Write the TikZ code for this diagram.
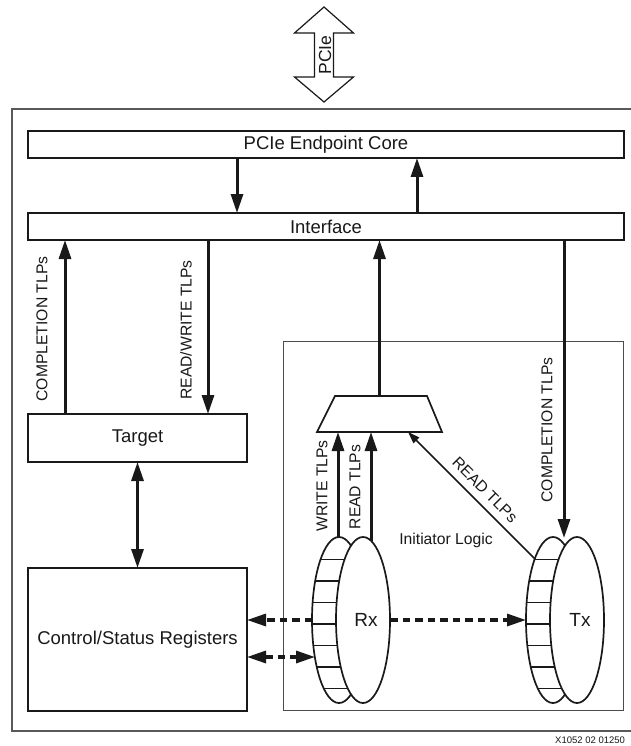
\documentclass[tikz,border=0pt]{standalone}
\usepackage{fontspec}
\setmainfont{Liberation Sans}
\usetikzlibrary{arrows.meta,shapes.geometric,calc}
\newcommand\drawcoin[3]{%
  \node[cyl] (#1back) at (#2,620) {};
  \node[cyl, font=\fontsize{19}{22}\selectfont] (#1) at (#2+24,620) {\raisebox{-3pt}{\hspace{6pt}#3}};
  \foreach \k in {-3,...,3}{%
    \pgfmathsetmacro\dy{4+21.5*\k}%
    \pgfmathsetmacro\w{27*sqrt(1-(\dy/83)^2)}%
    \draw[line width=1.4pt, black!90] (#2-\w,620+\dy) -- (#2+24-\w,620+\dy);
  }%
}
\begin{document}
\begin{tikzpicture}[x=1pt,y=-1pt,
  box/.style={draw=black!90, line width=1.9pt, fill=white, inner sep=0pt, outer sep=0pt,
    text=black!90, font=\fontsize{18.5}{21}\selectfont},
  lab/.style={font=\fontsize{15.7}{18}\selectfont, inner sep=0pt, text=black!90},
  arr/.style={line width=3pt, draw=black!90, -{Triangle[length=19pt,width=12pt]}},
  darr/.style={line width=3pt, draw=black!90, {Triangle[length=19pt,width=12pt]}-{Triangle[length=19pt,width=12pt]}},
  thinarr/.style={line width=1.5pt, draw=black!90, -{Triangle[length=12pt,width=8pt]}},
  dsh/.style={line width=3.2pt, draw=black!90, dash pattern=on 7.5pt off 5pt},
  dshr/.style={dsh, -{Triangle[length=19pt,width=12pt]}},
  dshb/.style={dsh, {Triangle[length=19pt,width=12pt]}-{Triangle[length=19pt,width=12pt]}},
  cyl/.style={ellipse, draw=black!90, line width=1.7pt, fill=white, minimum width=54pt,
    minimum height=166pt, inner sep=0pt, outer sep=0pt, text=black!90},
  frame/.style={draw=black!65, line width=1.4pt},
  innerframe/.style={draw=black!70, line width=1pt}]
\useasboundingbox (0,0) rectangle (630,746);
\fill[white] (0,0) rectangle (630,746);

% frames
\draw[frame] (12,109) rectangle (640,731);
\draw[innerframe] (283,341) rectangle (623,710);

% PCIe double arrow
\draw[line width=1.2pt, draw=black!90, fill=white]
  (324,7) -- (353.5,33) -- (333.5,33) -- (333.5,77) -- (353.5,77) -- (324,102)
  -- (294.5,77) -- (314.5,77) -- (314.5,33) -- (294.5,33) -- cycle;
\node[lab, rotate=90, font=\fontsize{17.5}{20}\selectfont] (pcie) at (325,55) {PCIe};

% boxes
\node[box, minimum width=596pt, minimum height=27pt] (core) at (326,144.5) {PCIe Endpoint Core};
\node[box, minimum width=596pt, minimum height=27pt] (iface) at (326,226.5) {Interface};
\node[box, minimum width=219pt, minimum height=48pt] (target) at (137.5,438) {Target};
\node[box, minimum width=219pt, minimum height=143pt] (csr) at (137.5,639.5) {Control/Status Registers};

% mux trapezoid
\node[minimum width=125pt, minimum height=36pt, inner sep=0pt, outer sep=0pt] (mux) at (379.5,414) {};
\draw[line width=1.7pt, draw=black!90, fill=white]
  (mux.south west) -- (mux.south east) -- ($(mux.north east)+(-15,0)$)
  -- ($(mux.north west)+(18,0)$) -- cycle;

% coins
\drawcoin{rx}{339}{Rx}
\drawcoin{tx}{553}{Tx}

\coordinate (rxw) at (338,537);
\coordinate (rxr) at (371,541);
\coordinate (txtop) at (564,538);
\coordinate (txd) at (535,559);
\coordinate (rxb2) at (315,657);

% arrows between core and interface
\draw[arr] (core.south -| 237,0) -- (iface.north -| 237,0);
\draw[arr] (iface.north -| 417,0) -- (core.south -| 417,0);

% target arrows
\draw[arr] (target.north -| 65,0) -- (iface.south -| 65,0);
\node[lab, rotate=90] (lcomp1) at (42,329) {COMPLETION TLPs};
\draw[arr] (iface.south -| 208,0) -- (target.north -| 208,0);
\node[lab, rotate=90] (lrw) at (186,330) {READ/WRITE TLPs};
\draw[darr] (target.south) -- (csr.north);

% initiator arrows
\draw[arr] (mux.north) -- (mux.north |- iface.south);
\draw[arr] (iface.south -| txtop) -- (txtop);
\node[lab, rotate=90] (lcomp2) at (547,430) {COMPLETION TLPs};
\draw[arr] (rxw) -- (rxw |- mux.south);
\node[lab, rotate=90] (lw) at (322,486) {WRITE TLPs};
\draw[arr] (rxr) -- (rxr |- mux.south);
\node[lab, rotate=90] (lr) at (355,487) {READ TLPs};
\draw[thinarr] (txd) -- (mux.south -| 408,0);
\node[lab, rotate=-45] (lrd) at (485,490) {READ TLPs};
\node[lab] (init) at (446,540) {Initiator Logic};

% dashed connections
\draw[dshr] (rxback.west) -- (csr.east |- rxback.west);
\draw[dshb] (csr.east |- rxb2) -- (rxb2);
\draw[dshr] (rx.east) -- (txback.west);

% figure code
\node[anchor=west, inner sep=0pt, text=black!90, font=\fontsize{9.5}{11}\selectfont] (code) at (555,740) {X1052 02 01250};
\end{tikzpicture}
\end{document}
